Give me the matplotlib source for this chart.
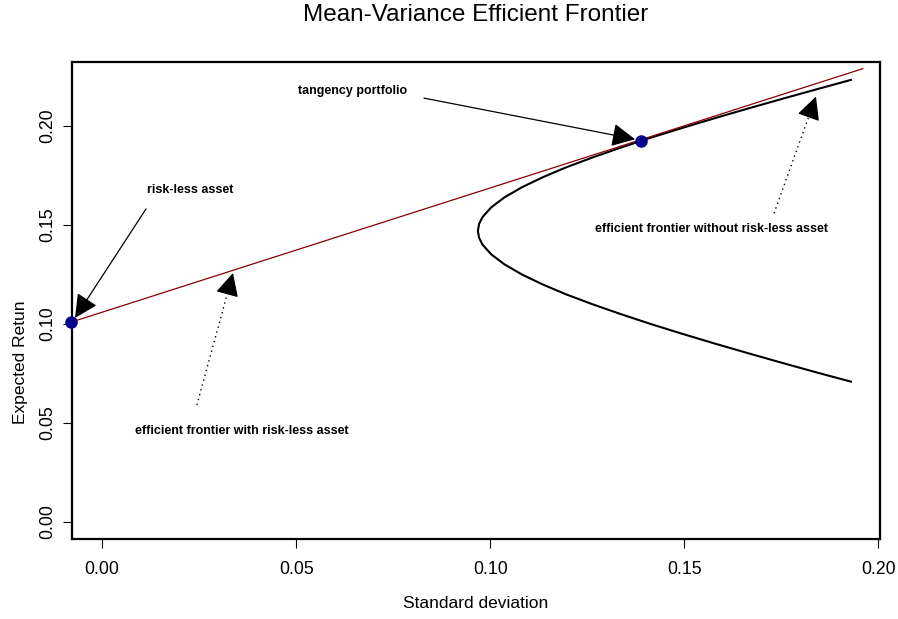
import matplotlib
matplotlib.use("Agg")
import matplotlib.pyplot as plt

plt.rcParams['font.family'] = ['Liberation Sans', 'DejaVu Sans']

# efficient frontier (risky assets only)
frontier_mu = [0.0708, 0.075, 0.080, 0.085, 0.090, 0.095, 0.100, 0.105, 0.110,
               0.115, 0.120, 0.125, 0.130, 0.135, 0.140, 0.1435, 0.147, 0.1505,
               0.154, 0.159, 0.164, 0.169, 0.174, 0.179, 0.184, 0.189, 0.194,
               0.199, 0.204, 0.209, 0.214, 0.219, 0.2233]
frontier_sd = [0.1929, 0.1849, 0.1757, 0.1667, 0.1579, 0.1494, 0.1412, 0.1335,
               0.1262, 0.1194, 0.1134, 0.1081, 0.1037, 0.1003, 0.0980, 0.0971,
               0.0968, 0.0971, 0.0980, 0.1003, 0.1037, 0.1081, 0.1134, 0.1194,
               0.1262, 0.1335, 0.1412, 0.1494, 0.1579, 0.1667, 0.1757, 0.1849,
               0.1929]

# capital market line (with risk-less asset)
cml_sd = [-0.0081, 0.1960]
cml_mu = [0.1008, 0.2290]

riskfree_sd, riskfree_mu = -0.0081, 0.1008
tangency_sd, tangency_mu = 0.1389, 0.1926

# annotations: label, text position, arrow start, arrow tip, line style
ann_labels = ["risk-less asset", "efficient frontier with risk-less asset",
              "tangency portfolio", "efficient frontier without risk-less asset"]
ann_text_xy = [(0.0226, 0.1676), (0.0360, 0.0459), (0.0644, 0.2176), (0.1571, 0.1479)]
ann_from = [(0.0113, 0.1581), (0.0244, 0.0590), (0.0829, 0.2141), (0.1731, 0.1559)]
ann_to = [(-0.0070, 0.1030), (0.0337, 0.1257), (0.1373, 0.1933), (0.1839, 0.2149)]
ann_style = ['-', ':', '-', ':']

xticks = [0.00, 0.05, 0.10, 0.15, 0.20]
yticks = [0.00, 0.05, 0.10, 0.15, 0.20]

W, H = 898, 619
fig = plt.figure(figsize=(W / 100, H / 100), dpi=100)
ax = fig.add_axes([72.3 / W, 1 - 539.3 / H, (880 - 72.3) / W, (539.3 - 62.3) / H])

ax.plot(frontier_sd, frontier_mu, color='black', lw=1.5, zorder=2)
ax.plot(cml_sd, cml_mu, color='#8B0000', lw=0.9, zorder=3)
ax.plot([riskfree_sd, tangency_sd], [riskfree_mu, tangency_mu], 'o',
        color='#00008B', ms=8, clip_on=False, zorder=5)

head = '-|>,head_length=0.8,head_width=0.4'
for lab, txy, p0, p1, ls in zip(ann_labels, ann_text_xy, ann_from, ann_to, ann_style):
    ax.text(txy[0], txy[1], lab, ha='center', va='center', fontsize=9,
            fontweight='bold')
    start = p0
    if ls == ':':
        # dotted shaft, solid filled head
        f = 0.88
        start = (p0[0] + f * (p1[0] - p0[0]), p0[1] + f * (p1[1] - p0[1]))
        ax.plot([p0[0], start[0]], [p0[1], start[1]], color='black', lw=1.0,
                linestyle=(0, (1, 2.6)))
    ax.annotate('', xy=p1, xytext=start,
                arrowprops=dict(arrowstyle=head, mutation_scale=18,
                                color='black', lw=0.9, shrinkA=0, shrinkB=0))

ax.set_xlim(-0.0077, 0.2004)
ax.set_ylim(-0.0089, 0.2322)
ax.set_xticks(xticks)
ax.set_xticklabels(["%.2f" % v for v in xticks])
ax.set_yticks(yticks)
ax.set_yticklabels(["%.2f" % v for v in yticks], rotation=90, va='center')
ax.tick_params(direction='out', length=6.5, width=0.8, labelsize=12.7)
ax.tick_params(axis='x', pad=9)
ax.tick_params(axis='y', pad=5)
for s in ax.spines.values():
    s.set_linewidth(1.6)

fig.text(476 / W, 1 - 21 / H, "Mean-Variance Efficient Frontier",
         ha='center', va='baseline', fontsize=17.5)
fig.text(476 / W, 1 - 608.3 / H, "Standard deviation",
         ha='center', va='baseline', fontsize=12.5)
fig.text(21 / W, 1 - 300.8 / H, "Expected Retun", rotation=90,
         ha='right', va='center', rotation_mode='anchor', fontsize=12.5)

fig.savefig("out.png", dpi=100)
